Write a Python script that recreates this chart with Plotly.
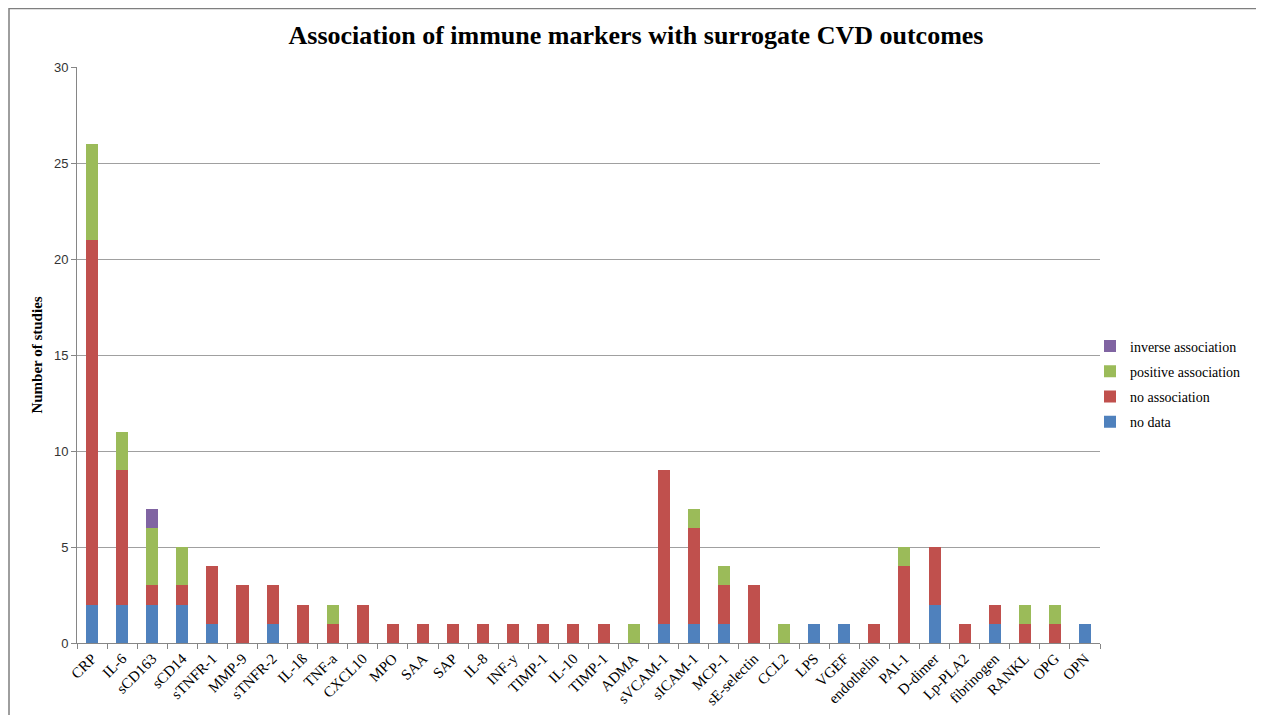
import plotly.graph_objects as go

categories = ["CRP", "IL-6", "sCD163", "sCD14", "sTNFR-1", "MMP-9", "sTNFR-2", "IL-1ß", "TNF-a",
              "CXCL10", "MPO", "SAA", "SAP", "IL-8", "INF-y", "TIMP-1", "IL-10", "TIMP-1", "ADMA",
              "sVCAM-1", "sICAM-1", "MCP-1", "sE-selectin", "CCL2", "LPS", "VGEF", "endothelin",
              "PAI-1", "D-dimer", "Lp-PLA2", "fibrinogen", "RANKL", "OPG", "OPN"]
no_data =        [2, 2, 2, 2, 1, 0, 1, 0, 0, 0, 0, 0, 0, 0, 0, 0, 0, 0, 0, 1, 1, 1, 0, 0, 1, 1, 0, 0, 2, 0, 1, 0, 0, 1]
no_association = [19, 7, 1, 1, 3, 3, 2, 2, 1, 2, 1, 1, 1, 1, 1, 1, 1, 1, 0, 8, 5, 2, 3, 0, 0, 0, 1, 4, 3, 1, 1, 1, 1, 0]
positive_assoc = [5, 2, 3, 2, 0, 0, 0, 0, 1, 0, 0, 0, 0, 0, 0, 0, 0, 0, 1, 0, 1, 1, 0, 1, 0, 0, 0, 1, 0, 0, 0, 1, 1, 0]
inverse_assoc =  [0, 0, 1, 0, 0, 0, 0, 0, 0, 0, 0, 0, 0, 0, 0, 0, 0, 0, 0, 0, 0, 0, 0, 0, 0, 0, 0, 0, 0, 0, 0, 0, 0, 0]
y_ticks = [0, 5, 10, 15, 20, 25, 30]

xpos = list(range(len(categories)))
series = [("no data", no_data, "#4F81BD"),
          ("no association", no_association, "#C0504D"),
          ("positive association", positive_assoc, "#9BBB59"),
          ("inverse association", inverse_assoc, "#8064A2")]

fig = go.Figure()
n = len(series)
for i, (name, vals, col) in enumerate(series):
    fig.add_trace(go.Bar(x=xpos, y=vals, name=name, legendgroup=name, legendrank=1000 + (n - i),
                         marker=dict(color=col, line=dict(width=0))))

# page body has an 8px margin; work in reference pixel coords minus 8
OFF = 8
W, H = 1264 - OFF, 715 - OFF
L, R, T, B = 77 - OFF, 1100 - OFF, 67 - OFF, 643 - OFF
pw, ph = R - L, B - T

fig.update_layout(
    width=W, height=H, barmode="stack", bargap=0.6,
    paper_bgcolor="white", plot_bgcolor="white",
    margin=dict(l=L, r=W - R, t=T, b=H - B, autoexpand=False),
    title=dict(text="<b>Association of immune markers with surrogate CVD outcomes</b>",
               x=(636 - OFF) / W, xanchor="center", y=1 - (35 - OFF) / H, yanchor="middle",
               font=dict(family="Liberation Serif", size=26, color="black")),
    legend=dict(traceorder="grouped", x=(1090 - OFF - L) / pw, xanchor="left",
                y=(B - (384 - OFF)) / ph, yanchor="middle",
                font=dict(family="Liberation Serif", size=14, color="black"),
                itemwidth=30, tracegroupgap=4, bgcolor="rgba(0,0,0,0)"),
    xaxis=dict(range=[-0.5, len(categories) - 0.5], tickmode="array", tickvals=xpos,
               ticktext=categories, tickangle=-45, ticks="", showgrid=False,
               showline=True, linecolor="#868686", linewidth=1,
               tickfont=dict(family="Liberation Serif", size=15, color="black"),
               minor=dict(tickmode="array", tickvals=[i - 0.5 for i in range(len(categories) + 1)],
                          ticks="outside", ticklen=5, tickcolor="#868686", showgrid=False)),
    yaxis=dict(range=[0, 30], tickmode="array", tickvals=y_ticks, ticks="outside", ticklen=5,
               tickcolor="#868686", showline=True, linecolor="#868686", linewidth=1,
               showgrid=True, gridcolor="#a0a0a0", gridwidth=1, zeroline=False,
               tickfont=dict(family="Liberation Sans", size=13, color="#333333"),
               title=dict(text="<b>Number of studies</b>", standoff=7,
                          font=dict(family="Liberation Serif", size=15, color="black"))),
)

fig.add_shape(type="rect", xref="paper", yref="paper",
              x0=(9 - OFF - L) / pw, x1=(1257 - OFF - L) / pw,
              y0=(B - (720 - OFF)) / ph, y1=(B - 0.5) / ph,
              line=dict(color="#7f7f7f", width=1.5), fillcolor="rgba(0,0,0,0)", layer="below")

fig.write_html("out.html")
